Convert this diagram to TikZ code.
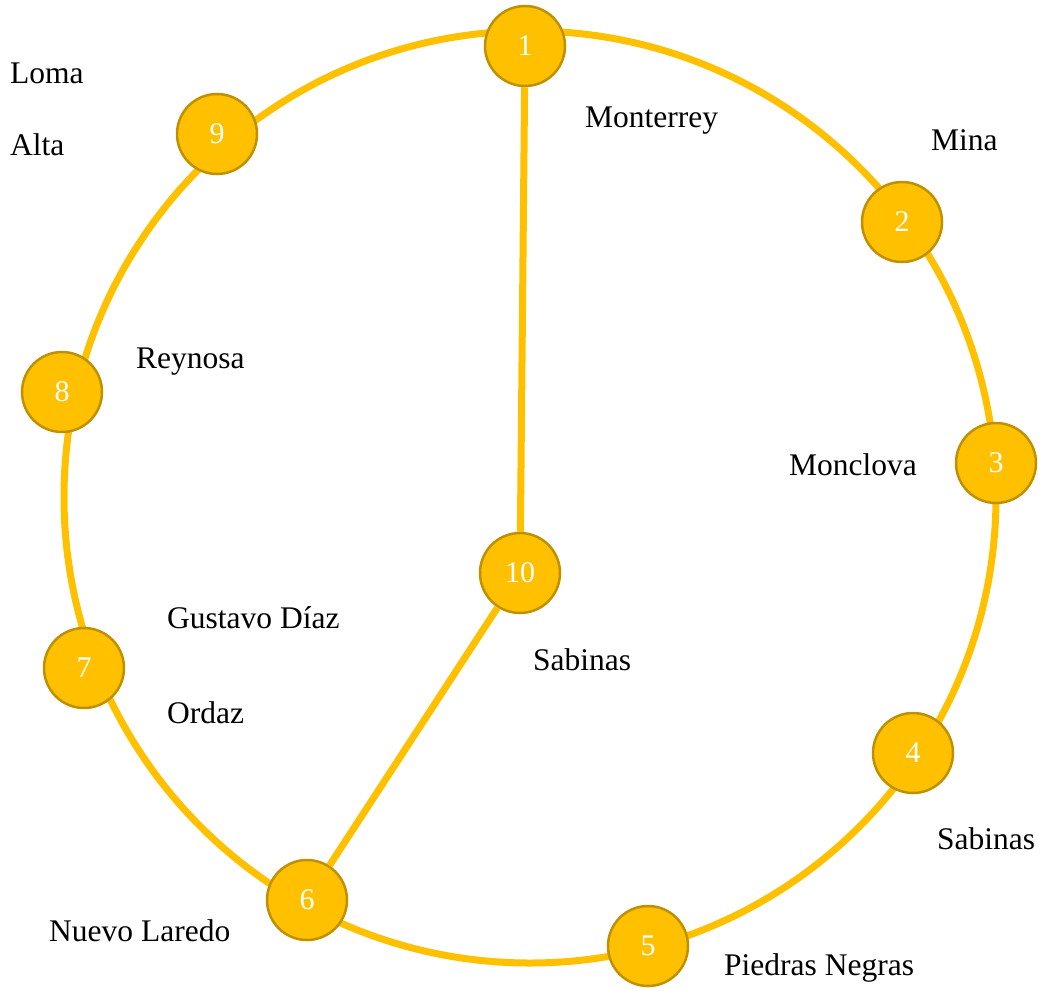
\documentclass[tikz,border=0pt]{standalone}
\usepackage{fontspec}
\setmainfont{Liberation Serif}
\usepackage{tikz}
\usetikzlibrary{arrows.meta,positioning}
\definecolor{RouteGold}{HTML}{FFC000}
\definecolor{RouteEdge}{HTML}{BF9000}

\begin{document}
\begin{tikzpicture}[
  x=1pt, y=-1pt,
  stn/.style={circle, draw=RouteEdge, line width=2.5pt, fill=RouteGold, minimum size=80pt,
    inner sep=0pt, text=white, font=\fontsize{30}{34}\selectfont},
  lbl/.style={anchor=west, inner sep=0pt, font=\fontsize{31.5}{36}\selectfont},
  track/.style={RouteGold, line width=7pt}
]
  \useasboundingbox (0,0) rectangle (1040,990);
  \draw[track] (530,497) circle[radius=466];
  \node[stn] (s1) at (525,46) {1};
  \node[stn] (s2) at (902,222) {2};
  \node[stn] (s3) at (996,463) {3};
  \node[stn] (s4) at (913,753) {4};
  \node[stn] (s5) at (648,946) {5};
  \node[stn] (s6) at (307,900) {6};
  \node[stn] (s7) at (84,668) {7};
  \node[stn] (s8) at (62,392) {8};
  \node[stn] (s9) at (217,134) {9};
  \node[stn] (s10) at (520,573) {10};
  \draw[track] (s1) -- (s10);
  \draw[track] (s10) -- (s6);
  % station names
  \node[lbl] (loma) at (10,73) {Loma};
  \node[lbl] (alta) at (10,145) {Alta};
  \node[lbl] (mty) at (585,121) {Monterrey};
  \node[lbl] (mina) at (931,140) {Mina};
  \node[lbl] (rey) at (136,362) {Reynosa};
  \node[lbl] (mon) at (789,465) {Monclova};
  \node[lbl] (gus) at (167,618) {Gustavo Díaz};
  \node[lbl] (ord) at (167,713) {Ordaz};
  \node[lbl] (sabc) at (533,660) {Sabinas};
  \node[lbl] (sabr) at (937,839) {Sabinas};
  \node[lbl] (nlar) at (49,931) {Nuevo Laredo};
  \node[lbl] (pneg) at (724,968) {Piedras Negras};
\end{tikzpicture}
\end{document}
